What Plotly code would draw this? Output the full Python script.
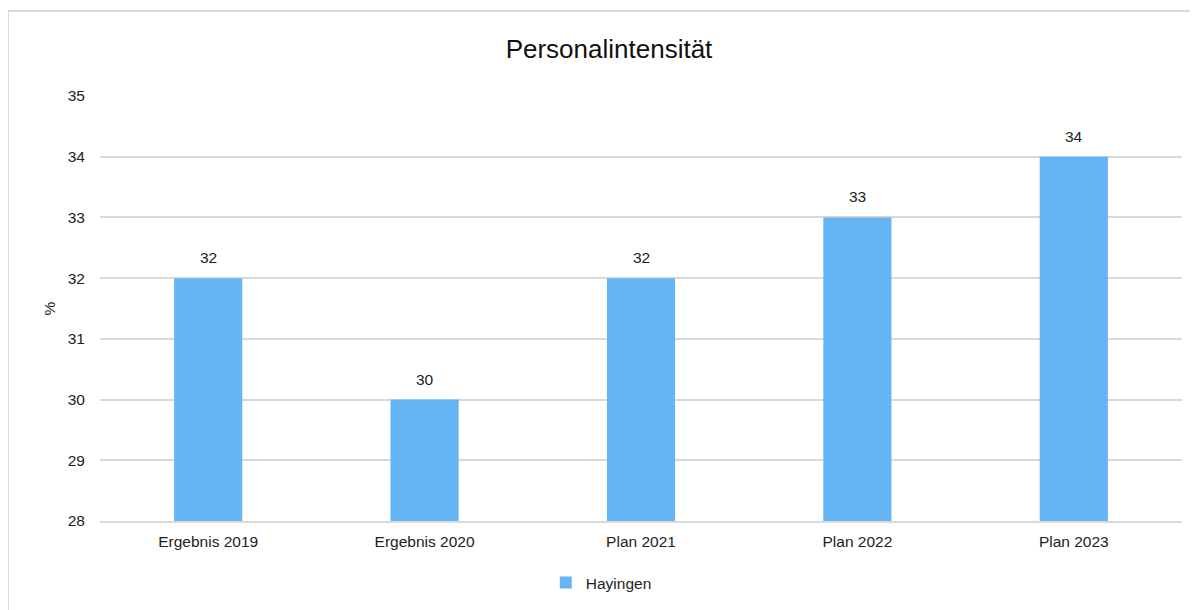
import plotly.graph_objects as go

categories = ["Ergebnis 2019", "Ergebnis 2020", "Plan 2021", "Plan 2022", "Plan 2023"]
values = [32, 30, 32, 33, 34]
series_name = "Hayingen"
y_ticks = [28, 29, 30, 31, 32, 33, 34, 35]

FONT = "Liberation Sans, Arial, sans-serif"
GRID = "#d9d9d9"
BAR = "#64b5f6"
TXT = "#222222"
FS = 15.5

# page body adds an 8px offset; figure coordinates are compensated
ML, MR, MT, MB = 92, 24, 88, 97
W, H = 1198, 610
PW = W - ML - MR
PH = H - MT - MB

fig = go.Figure()
fig.add_trace(go.Bar(x=categories, y=values, name=series_name,
                     marker=dict(color=BAR, line=dict(width=0)),
                     showlegend=True))

for c, v in zip(categories, values):
    fig.add_annotation(x=c, y=v, text=str(v), showarrow=False,
                       yanchor="bottom", yshift=10,
                       font=dict(family=FONT, size=FS, color=TXT))

fig.update_layout(
    width=W, height=H,
    margin=dict(l=ML, r=MR, t=MT, b=MB),
    paper_bgcolor="white", plot_bgcolor="white",
    font=dict(family=FONT, size=FS, color=TXT),
    title=dict(text="Personalintensität", x=601 / W, xanchor="center",
               y=1 - 41 / H, yanchor="middle",
               font=dict(family=FONT, size=26, color="#111111")),
    bargap=0.685,
    showlegend=True,
    legend=dict(orientation="h", x=0.412, xanchor="left", y=-62 / PH, yanchor="middle",
                font=dict(family=FONT, size=FS, color=TXT),
                itemwidth=30),
    xaxis=dict(showgrid=False, showline=True, linecolor=GRID, linewidth=2,
               ticks="", ticklabelstandoff=5,
               tickfont=dict(family=FONT, size=FS, color=TXT)),
    yaxis=dict(range=[28, 35], tickvals=y_ticks, showgrid=True, gridcolor=GRID,
               gridwidth=2, zeroline=False, showline=False, ticks="",
               ticklabelstandoff=14,
               title=dict(text="%", standoff=8, font=dict(family=FONT, size=FS, color=TXT)),
               tickfont=dict(family=FONT, size=FS, color=TXT)),
    shapes=[dict(type="rect", xref="paper", yref="paper",
                 x0=(0 - ML) / PW, x1=(W + 10 - ML) / PW,
                 y0=-(H + 10 - (MT + PH)) / PH, y1=1 + (MT - 3) / PH,
                 line=dict(color=GRID, width=2), layer="below")],
)

fig.write_html("out.html")
